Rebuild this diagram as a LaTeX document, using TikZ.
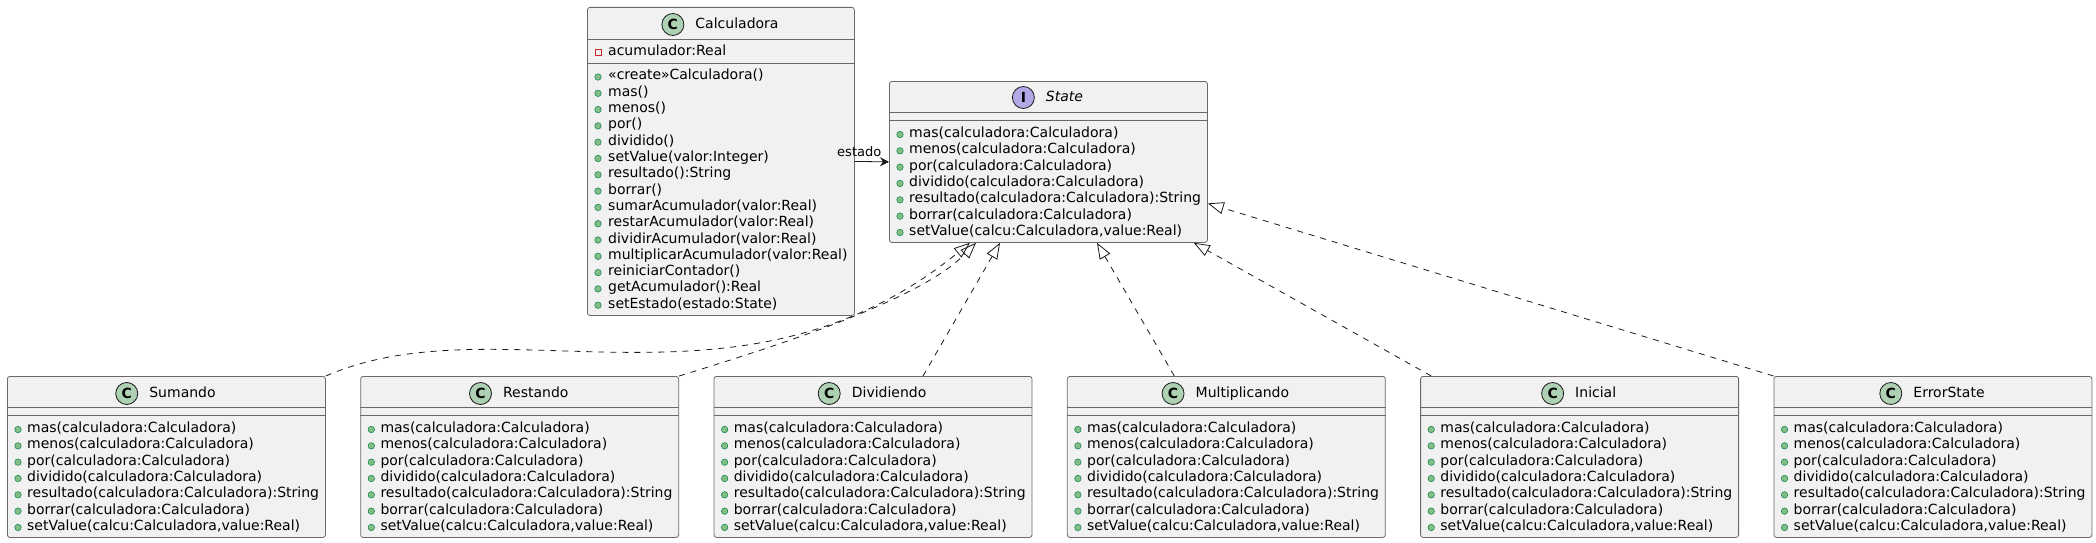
\documentclass[tikz,border=0pt]{standalone}
\usepackage{fontspec}
\setmainfont{DejaVu Sans}
\usetikzlibrary{positioning,arrows.meta}

\definecolor{boxfill}{HTML}{F1F1F1}
\definecolor{boxline}{HTML}{181818}
\definecolor{classicon}{HTML}{ADD1B2}
\definecolor{ifaceicon}{HTML}{B4A7E5}
\definecolor{pubfill}{HTML}{84BE84}
\definecolor{publine}{HTML}{038048}
\definecolor{privline}{HTML}{C82930}

\newcommand\umlfont{\fontsize{14}{16.3}\selectfont}
\newcommand\rolefont{\fontsize{13}{15}\selectfont}
\newcommand\statemembers{{mas(calculadora:Calculadora)},{menos(calculadora:Calculadora)},{por(calculadora:Calculadora)},{dividido(calculadora:Calculadora)},{resultado(calculadora:Calculadora):String},{borrar(calculadora:Calculadora)},{setValue(calcu:Calculadora,value:Real)}}

\begin{document}
\begin{tikzpicture}[x=1pt,y=-1pt,
  classbox/.style={draw=boxline!65, fill=boxfill, line width=0.8pt, rounded corners=2.5pt, inner sep=0pt, anchor=north west},
  sep/.style={draw=boxline!65, line width=0.8pt},
  icon/.style={circle, draw=boxline, line width=0.8pt, minimum size=22pt, inner sep=0pt, font=\umlfont\bfseries},
  title/.style={inner sep=0pt, text height=11pt, text depth=3pt, font=\umlfont},
  member/.style={anchor=base west, inner sep=0pt, font=\umlfont},
  pub/.style={circle, draw=publine, fill=pubfill, line width=0.5pt, minimum size=6.5pt, inner sep=0pt},
  priv/.style={rectangle, draw=privline, line width=0.8pt, minimum size=6pt, inner sep=0pt},
  rolelbl/.style={inner sep=0pt, font=\rolefont},
  realize/.style={draw=boxline, line width=0.8pt, dash pattern=on 6pt off 6pt, -{Triangle[open,length=16pt,width=12pt]}},
  assoc/.style={draw=boxline, line width=0.8pt, -{Stealth[length=9pt,width=9pt,inset=3pt]}}
]
\useasboundingbox (0,0) rectangle (2096,543);

% Calculadora
\node[classbox, minimum width=267pt, minimum height=308pt] (Calculadora) at (587,7) {};
\node[title, anchor=base] (Calculadora-title) at (737,28.5) {Calculadora};
\node[icon, fill=classicon, left=11pt of Calculadora-title] (Calculadora-icon) {C};
\draw[sep] ([yshift=-32pt]Calculadora.north west) -- ([yshift=-32pt]Calculadora.north east);
\draw[sep] ([yshift=-56pt]Calculadora.north west) -- ([yshift=-56pt]Calculadora.north east);
\node[priv] (Calculadora-b0) at (598,52) {};
\node[member] (Calculadora-m0) at (608,56) {acumulador:Real};
\foreach \m [count=\i] in {{«create»Calculadora()},mas(),menos(),por(),dividido(),{setValue(valor:Integer)},{resultado():String},borrar(),{sumarAcumulador(valor:Real)},{restarAcumulador(valor:Real)},{dividirAcumulador(valor:Real)},{multiplicarAcumulador(valor:Real)},reiniciarContador(),{getAcumulador():Real},{setEstado(estado:State)}}{
  \node[pub] (Calculadora-b\i) at (598,{77+(\i-1)*16.3}) {};
  \node[member] (Calculadora-m\i) at (608,{80+(\i-1)*16.3}) {\m};
}

% State
\node[classbox, minimum width=318pt, minimum height=161pt] (State) at (889,81) {};
\node[title, anchor=base, font=\umlfont\itshape] (State-title) at (1064.5,101.5) {State};
\node[icon, fill=ifaceicon, left=11pt of State-title] (State-icon) {I};
\draw[sep] ([yshift=-31pt]State.north west) -- ([yshift=-31pt]State.north east);
\draw[sep] ([yshift=-39pt]State.north west) -- ([yshift=-39pt]State.north east);
\foreach \m [count=\i] in \statemembers {
  \node[pub] (State-b\i) at (900,{134.5+(\i-1)*16.33}) {};
  \node[member] (State-m\i) at (909,{137.5+(\i-1)*16.33}) {\m};
}

% implementations
\foreach \cname [count=\k from 0] in {Sumando,Restando,Dividiendo,Multiplicando,Inicial,ErrorState}{
  \pgfmathsetmacro\cx{7+353.3*\k}
  \node[classbox, minimum width=318pt, minimum height=161pt] (\cname) at (\cx,376) {};
  \node[title, anchor=base] (\cname-title) at ({\cx+175.5},397.5) {\cname};
  \node[icon, fill=classicon, left=11pt of \cname-title] (\cname-icon) {C};
  \draw[sep] ([yshift=-31pt]\cname.north west) -- ([yshift=-31pt]\cname.north east);
  \draw[sep] ([yshift=-39pt]\cname.north west) -- ([yshift=-39pt]\cname.north east);
  \foreach \m [count=\i] in \statemembers {
    \node[pub] (\cname-b\i) at ({\cx+11},{429.5+(\i-1)*16.33}) {};
    \node[member] (\cname-m\i) at ({\cx+20},{432.5+(\i-1)*16.33}) {\m};
  }
}

% connectors
\draw[assoc] (Calculadora.east) -- node[rolelbl, pos=0.13, above=4pt] (estado) {estado} (State.west);
\draw[realize] (Sumando.north east) .. controls (500,300) and (740,430) .. ([xshift=81pt]State.south west);
\draw[realize] (Restando.north east) .. controls (780,345) and (920,300) .. ([xshift=87pt]State.south west);
\draw[realize] ([xshift=50pt]Dividiendo.north) -- ([xshift=111pt]State.south west);
\draw[realize] ([xshift=-52pt]Multiplicando.north) -- ([xshift=208pt]State.south west);
\draw[realize] ([xshift=11pt]Inicial.north west) -- ([xshift=-14pt]State.south east);
\draw[realize] (ErrorState.north west) -- ([yshift=-41.5pt]State.east);
\end{tikzpicture}
\end{document}
